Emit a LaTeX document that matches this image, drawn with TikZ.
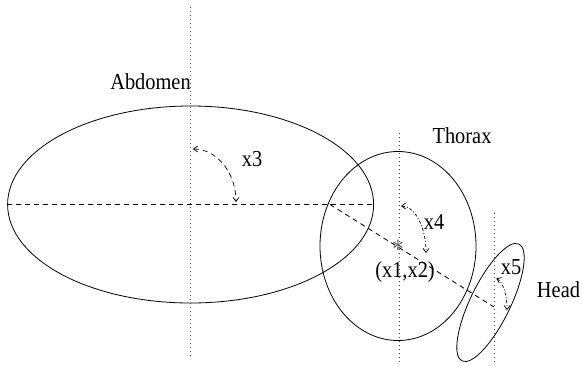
\documentclass[tikz,border=0pt]{standalone}
\usepackage{fontspec}
\setmainfont{Liberation Serif}
\usetikzlibrary{shapes.geometric,arrows.meta}
\begin{document}
\begin{tikzpicture}[x=1bp,y=1bp,
  body/.style={draw,ellipse,line width=0.8bp,inner sep=0pt,outer sep=0pt},
  lbl/.style={font=\fontsize{23}{25}\selectfont,inner sep=0pt,xscale=0.89},
  axis/.style={draw=black!70,line width=0.8bp,dash pattern=on 1bp off 3bp},
  mid/.style={line width=0.8bp,dash pattern=on 5bp off 4bp},
  rot/.style={line width=0.7bp,dash pattern=on 5bp off 4bp,{Straight Barb[length=4bp,width=6bp]}-{Straight Barb[length=4bp,width=6bp]}},
  rotb/.style={line width=0.7bp,dash pattern=on 3bp off 2bp on 1bp off 2bp,{Straight Barb[length=4bp,width=6bp]}-{Straight Barb[length=4bp,width=6bp]}}]
\useasboundingbox (0,0) rectangle (582,365);
% bodies
\node[body,minimum width=366bp,minimum height=197bp] (abd) at (190.6,160.5) {};
\node[body,minimum width=156bp,minimum height=189bp] (tho) at (398,119) {};
\node[body,rotate=64,minimum width=130bp,minimum height=40bp] (hed) at (490.5,62.5) {};
% vertical axes
\coordinate (a1) at (190.8,358); \coordinate (a2) at (190.8,8);
\coordinate (t1) at (399,232); \coordinate (t2) at (399,2);
\coordinate (h1) at (494,152); \coordinate (h2) at (494,2);
\draw[axis] (a1) -- (a2);
\draw[axis] (t1) -- (t2);
\draw[axis] (h1) -- (h2);
% main axes
\coordinate (m1) at (7,160.5); \coordinate (m2) at (374,160.5);
\coordinate (n1) at (330,160.5); \coordinate (n2) at (494,58);
\draw[mid] (m1) -- (m2);
\draw[mid] (n1) -- (n2);
% centre mark
\node[text=black!75,inner sep=0pt,font=\fontsize{26}{26}\selectfont] (ctr) at (398,119) {$\ast$};
% rotation arcs
\coordinate (r3) at (193,216);
\draw[rot] (r3) arc[start angle=90,end angle=0,x radius=43,y radius=53];
\coordinate (r4) at (401,159);
\draw[rotb] (r4) arc[start angle=90,end angle=0,x radius=25,y radius=47];
\coordinate (r5) at (496.3,86.5);
\draw[rotb] (r5) arc[start angle=80,end angle=0,x radius=13,y radius=32];
% labels
\node[lbl] (labd) at (150.5,283) {Abdomen};
\node[lbl] (ltho) at (462,229.5) {Thorax};
\node[lbl] (lhed) at (558.5,75) {Head};
\node[lbl] (lx3) at (252,206) {x3};
\node[lbl] (lx4) at (434,143) {x4};
\node[lbl] (lx5) at (511,98) {x5};
\node[lbl] (lx12) at (405,92.6) {(x1,x2)};
\end{tikzpicture}
\end{document}
